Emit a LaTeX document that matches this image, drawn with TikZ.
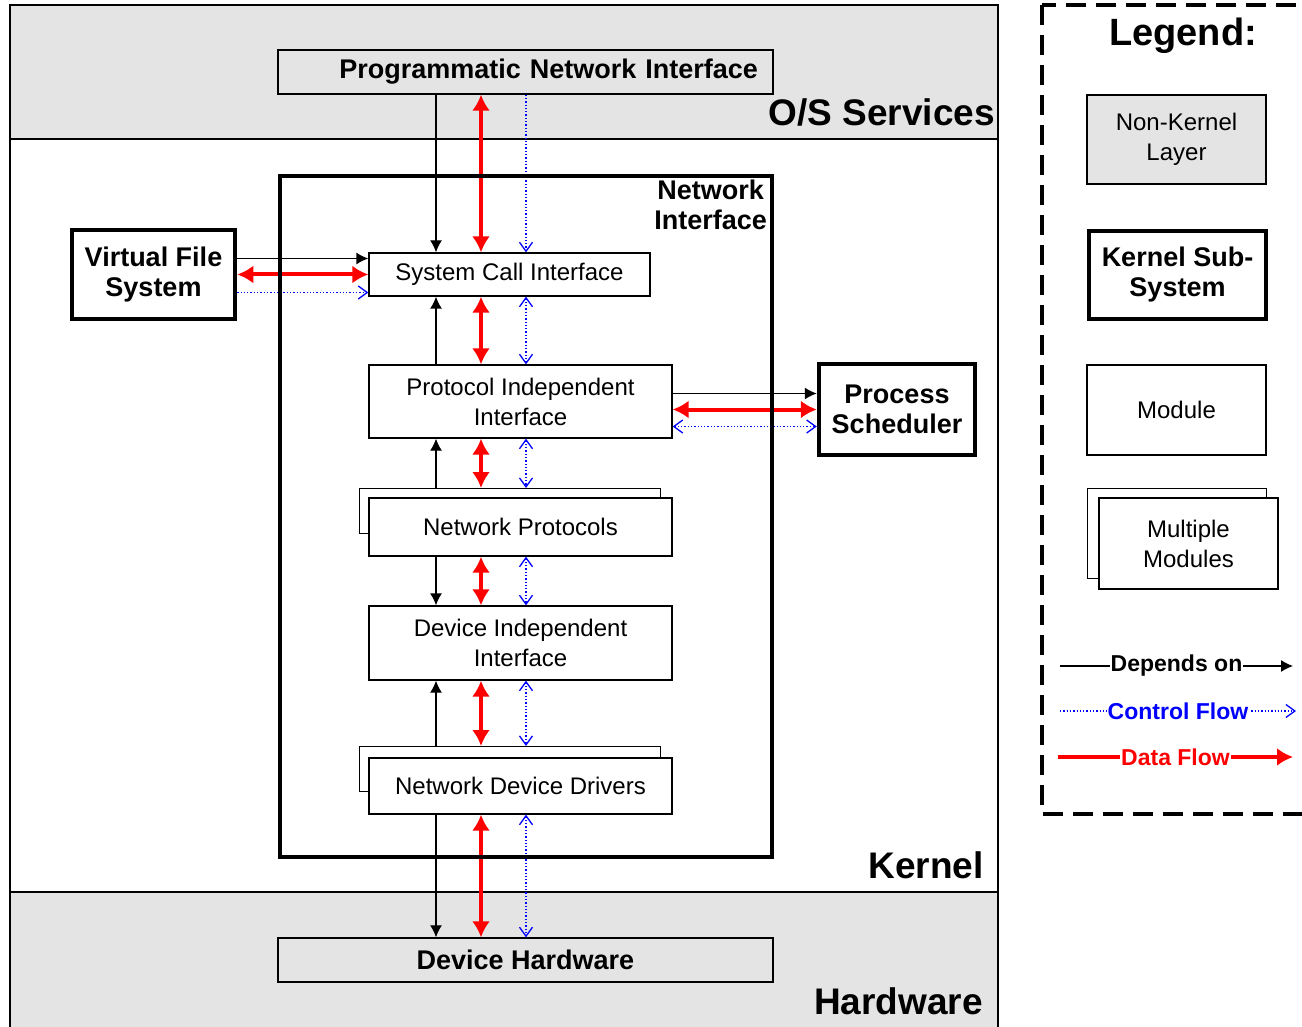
\documentclass[tikz,border=0pt]{standalone}
\usepackage{fontspec}
\setmainfont{Liberation Sans}
\usetikzlibrary{arrows.meta}
\usetikzlibrary{positioning}
\definecolor{layergray}{RGB}{228,228,228}
\tikzset{x=1pt, y=-1pt, % one unit is one pixel of the drawing, y runs down
      every node/.style={inner sep=0pt, align=center},
      boldtext/.style={font=\fontsize{27}{30}\selectfont\bfseries},
      plaintext/.style={font=\fontsize{24}{30}\selectfont},
      nonkernel/.style={ % grey layer boxes
      draw, line width=1.4pt, fill=layergray},
      kernelsub/.style={ % thick kernel sub-system boxes
      draw, line width=4.5pt, fill=white, boldtext},
      module/.style={draw, line width=1.3pt, fill=white, plaintext},
      depends/.style={draw, line width=1.3pt, -{Latex[length=12pt,width=12pt]}},
      dataflow/.style={draw=red, line width=4pt, -{Latex[length=16pt,width=18pt]}},
      databoth/.style={dataflow, {Latex[length=16pt,width=18pt]}-{Latex[length=16pt,width=18pt]}},
      ctlflow/.style={draw=blue, line width=1.3pt, dotted, -{Straight Barb[length=9pt,width=13pt,line width=1.3pt]}},
      ctlboth/.style={ctlflow, {Straight Barb[length=9pt,width=13pt,line width=1.3pt]}-{Straight Barb[length=9pt,width=13pt,line width=1.3pt]}},
      bandlabel/.style={font=\fontsize{37}{40}\selectfont\bfseries, anchor=base east}}
\begin{document}
\begin{tikzpicture}
      \useasboundingbox (0,0) rectangle (1302,1027);
      % layers
      \draw[line width=1.3pt, fill=layergray] (10,5) rectangle (998,139);
      \draw[line width=1.3pt, fill=white] (10,139) rectangle (998,892);
      \draw[line width=1.3pt, fill=layergray] (10,892) rectangle (998,1040);
      \node[bandlabel] (os) at (995,126) {O/S Services};
      \node[bandlabel] (kern) at (984,878) {Kernel};
      \node[bandlabel] (hw) at (983,1014) {Hardware};

      \node[nonkernel, boldtext, minimum width=495pt, minimum height=44pt, text width=465pt, align=right] (pni) at (525.5,72) {Programmatic Network Interface};
      \node[nonkernel, boldtext, minimum width=495pt, minimum height=44pt] (dh) at (525.5,960) {Device Hardware};

      \node[kernelsub, minimum width=163pt, minimum height=89pt] (vfs) at (153.5,274.5) {Virtual File\\System};
      \node[kernelsub, minimum width=156pt, minimum height=91pt] (ps) at (897,409.5) {Process\\Scheduler};

      % modules of the network interface
      \node[module, minimum width=281pt, minimum height=43pt] (sci) at (509.5,274.5) {System Call Interface};
      \node[module, minimum width=303pt, minimum height=73pt] (pii) at (520.5,401.5) {Protocol Independent\\Interface};
      \node[module, minimum width=301pt, minimum height=45pt, anchor=north west] (npback) at (359,488) {};
      \node[module, minimum width=303pt, minimum height=58pt] (np) at (520.5,527) {Network Protocols};
      \node[module, minimum width=303pt, minimum height=74pt] (dii) at (520.5,643) {Device Independent\\Interface};
      \node[module, minimum width=301pt, minimum height=45pt, anchor=north west] (nddback) at (359,746) {};
      \node[module, minimum width=303pt, minimum height=56pt] (ndd) at (520.5,786) {Network Device Drivers};

      \coordinate (coldep) at (436,0);
      \coordinate (coldata) at (481,0);
      \coordinate (colctl) at (526,0);

      % depends on
      \draw[depends] (pni.south -| coldep) -- (sci.north -| coldep);
      \draw[depends] (pii.north -| coldep) -- (sci.south -| coldep);
      \draw[depends] (npback.north -| coldep) -- (pii.south -| coldep);
      \draw[depends] (np.south -| coldep) -- (dii.north -| coldep);
      \draw[depends] (nddback.north -| coldep) -- (dii.south -| coldep);
      \draw[depends] (ndd.south -| coldep) -- (dh.north -| coldep);
      % data and control flow
      \foreach \a/\b in {pni/sci, sci/pii, pii/npback, np/dii, dii/nddback, ndd/dh}
            \draw[databoth] (\a.south -| coldata) -- (\b.north -| coldata);
      \draw[ctlflow] (pni.south -| colctl) -- (sci.north -| colctl);
      \foreach \a/\b in {sci/pii, pii/npback, np/dii, dii/nddback, ndd/dh}
            \draw[ctlboth] (\a.south -| colctl) -- (\b.north -| colctl);

      \draw[depends] ([yshift=16pt]vfs.east) -- ([yshift=16pt]sci.west);
      \draw[databoth] (vfs.east) -- (sci.west);
      \draw[ctlflow] ([yshift=-18pt]vfs.east) -- ([yshift=-18pt]sci.west);

      \coordinate (psdep) at ([yshift=16pt]ps.west);
      \coordinate (psctl) at ([yshift=-17pt]ps.west);
      \draw[depends] (pii.east |- psdep) -- (psdep);
      \draw[databoth] (pii.east |- ps.west) -- (ps.west);
      \draw[ctlboth] (pii.east |- psctl) -- (psctl);

      \node[draw, line width=4.5pt, minimum width=492pt, minimum height=681pt] (ni) at (526,516.5) {};
      \node[boldtext, anchor=north east] (nilabel) at (767,180) {Network\\Interface};

      % legend
      \draw[line width=4pt, dash pattern=on 20pt off 10pt] (1042,5) rectangle (1320,814);
      \node[font=\fontsize{38}{40}\selectfont\bfseries, anchor=base] (leg) at (1183,46) {Legend:};
      \node[nonkernel, plaintext, minimum width=179pt, minimum height=89pt] (lnk) at (1176.5,139.5) {Non-Kernel\\Layer};
      \node[kernelsub, minimum width=177pt, minimum height=88pt] (lks) at (1177.5,275) {Kernel Sub-\\System};
      \node[module, minimum width=179pt, minimum height=90pt] (lmod) at (1176.5,410) {Module};
      \node[module, minimum width=179pt, minimum height=90pt, anchor=north west] (lmmback) at (1087,488) {};
      \node[module, minimum width=179pt, minimum height=91pt] (lmm) at (1188.5,543.5) {Multiple\\Modules};

      \coordinate (ldepa) at (1060,666);
      \coordinate (ldepb) at (1293,666);
      \coordinate (lctla) at (1060,711);
      \coordinate (lctlb) at (1296,711);
      \coordinate (ldataa) at (1058,757);
      \coordinate (ldatab) at (1293,757);
      \draw[depends] (ldepa) -- node[fill=white, inner sep=1pt, font=\fontsize{23}{26}\selectfont\bfseries] (ldep) {Depends on} (ldepb);
      \draw[ctlflow] (lctla) -- node[fill=white, inner sep=1pt, text=blue, font=\fontsize{23}{26}\selectfont\bfseries] (lctl) {Control Flow} (lctlb);
      \draw[dataflow] (ldataa) -- node[fill=white, inner sep=1pt, text=red, font=\fontsize{23}{26}\selectfont\bfseries] (ldata) {Data Flow} (ldatab);
\end{tikzpicture}
\end{document}
